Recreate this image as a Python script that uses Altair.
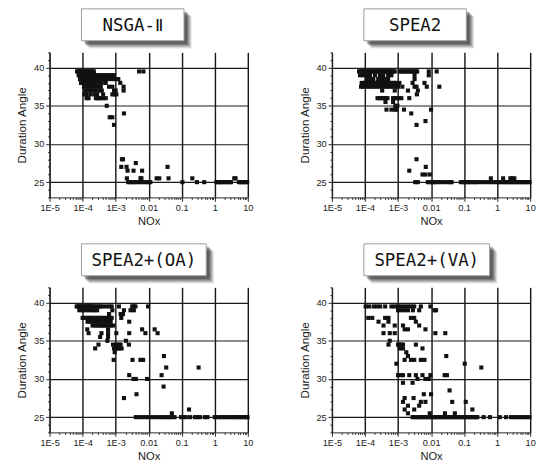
import altair as alt
import pandas as pd

# ---------------- data (Duration Angle, list of log10(NOx) values) ----------------
panel_names = ["NSGA-Ⅱ", "SPEA2", "SPEA2+(OA)", "SPEA2+(VA)"]

nsga_rows = [
    (39.5, [-4.17, -4.13, -4.1, -4.06, -4.02, -3.98, -3.94, -3.9, -3.86, -3.82, -3.78, -3.74, -3.7, -3.66, -2.29, -2.16]),
    (39.0, [-4.12, -4.08, -4.03, -3.97, -3.92, -3.87, -3.82, -3.76, -3.7, -3.64, -3.58, -3.52, -3.46, -3.4, -3.34, -3.28, -3.22, -3.16, -3.1, -3.05]),
    (38.5, [-4.08, -4.02, -3.95, -3.88, -3.8, -3.74, -3.66, -3.6, -3.52, -3.44, -3.36, -3.3, -3.2, -3.12, -3.05, -2.98, -2.92]),
    (38.0, [-4.05, -3.98, -3.9, -3.84, -3.77, -3.7, -3.62, -3.5, -3.42, -3.3, -2.86]),
    (37.5, [-3.96, -3.9, -3.8, -3.72, -3.62, -3.55, -3.45, -3.2, -3.1, -2.76]),
    (37.0, [-3.92, -3.85, -3.78, -3.7, -3.62, -3.5, -3.42, -3.05, -3.0, -2.76]),
    (36.5, [-3.95, -3.88, -3.76, -3.64, -3.56, -3.38, -3.1, -3.04, -2.98]),
    (36.0, [-3.88, -3.82, -3.6, -3.55, -3.5, -3.45, -3.38, -3.3]),
    (35.0, [-3.27]),
    (34.0, [-2.75]),
    (33.5, [-3.18, -3.1]),
    (32.5, [-3.05]),
    (28.0, [-2.81, -2.78]),
    (27.5, [-2.39]),
    (27.0, [-2.83, -2.67, -1.43]),
    (26.5, [-2.64, -2.46, -2.2]),
    (25.5, [-2.66, -2.25, -2.22, -1.76, -1.68, -1.4, -0.68, 0.59, 0.63]),
    (25.0, [-2.62, -2.56, -2.5, -2.44, -2.38, -2.3, -2.22, -2.14, -2.06, -2.0, -1.95, -0.98, -0.54, -0.32,
            0.05, 0.1, 0.15, 0.2, 0.25, 0.32, 0.38, 0.44, 0.49, 0.73, 0.78, 0.83, 0.88, 0.93, 0.98]),
]

spea2_rows = [
    (39.5, [-4.18, -4.14, -4.1, -4.06, -4.02, -3.98, -3.94, -3.9, -3.86, -3.82, -3.78, -3.74, -3.7, -3.66, -3.62, -3.58,
            -3.54, -3.5, -3.46, -3.42, -3.38, -3.34, -3.3, -3.26, -3.22, -3.18, -3.14, -3.1, -2.95, -2.9, -2.85, -2.8,
            -2.75, -2.7, -2.65, -2.6, -2.55, -2.5, -2.45, -2.42, -2.07, -1.83]),
    (39.0, [-4.15, -4.05, -3.95, -3.85, -3.7, -3.55, -3.45, -3.3, -3.2, -2.5, -2.07]),
    (38.5, [-3.95, -3.85, -3.75, -3.6, -3.5, -3.4, -3.3, -2.5]),
    (38.0, [-4.1, -4.03, -3.96, -3.9, -3.84, -3.78, -3.72, -3.66, -3.6, -3.54, -3.48, -3.42, -3.36, -3.3, -3.24, -3.18,
            -3.12, -3.05, -2.96, -2.56, -2.2]),
    (37.5, [-4.12, -4.05, -3.98, -3.9, -3.82, -3.74, -3.66, -3.58, -3.5, -3.42, -3.34, -3.26, -3.18, -3.1, -3.0, -2.87,
            -2.5, -2.44, -2.13, -1.75]),
    (37.0, [-3.48, -3.1, -2.7, -2.4]),
    (36.5, [-2.43]),
    (36.0, [-3.62, -3.56, -3.5, -3.44, -3.38, -3.32, -3.15, -3.1, -3.05, -2.97, -2.9, -2.66]),
    (35.5, [-3.38, -3.15]),
    (35.0, [-3.08, -3.02]),
    (34.5, [-3.35, -3.2, -3.1, -3.05, -2.82, -2.0]),
    (34.0, [-2.6]),
    (33.0, [-2.17]),
    (32.5, [-2.44]),
    (28.0, [-2.44]),
    (27.0, [-2.16]),
    (26.5, [-2.66]),
    (26.0, [-2.26, -2.17, -2.04]),
    (25.5, [-0.19, 0.18, 0.4, 0.45, 0.52]),
    (25.0, [-2.48, -2.4, -2.1, -2.04, -1.98, -1.92, -1.86, -1.78, -1.7, -1.6, -1.5, -1.42, -1.38, -1.1, -1.04, -0.98,
            -0.92, -0.86, -0.8, -0.72, -0.66, -0.6, -0.5, -0.4, -0.3, -0.22, -0.12, -0.02, 0.05, 0.12, 0.2, 0.26, 0.32,
            0.38, 0.44, 0.5, 0.56, 0.62, 0.68, 0.74, 0.8, 0.86, 0.92, 0.98]),
]

oa_rows = [
    (39.5, [-4.18, -4.14, -4.1, -4.06, -4.02, -3.98, -3.94, -3.9, -3.86, -3.82, -3.78, -3.74, -3.7, -3.64, -3.58, -3.52,
            -3.46, -3.4, -3.3, -3.2, -3.12, -2.9, -2.5, -2.45, -2.4, -2.02]),
    (39.0, [-4.1, -4.0, -3.9, -3.8, -3.72, -3.64, -3.56, -3.1, -2.75, -2.55, -2.45]),
    (38.5, [-3.2, -2.85, -2.78]),
    (38.0, [-4.0, -3.94, -3.88, -3.82, -3.76, -3.7, -3.64, -3.58, -3.52, -3.46, -3.4, -3.3, -3.24, -3.18, -3.12, -2.83]),
    (37.5, [-3.85, -3.78, -3.7, -3.62, -3.55, -3.48, -3.4, -3.32, -3.25, -3.15, -2.59]),
    (37.0, [-3.7, -3.62, -3.55, -3.48, -3.42, -3.36, -3.3, -3.22, -3.15, -3.08]),
    (36.5, [-3.86, -3.23, -2.2, -1.82]),
    (36.0, [-3.82, -3.43, -3.23, -2.98, -2.59, -2.1, -1.73]),
    (35.5, [-3.47, -3.23]),
    (35.0, [-3.25, -2.69]),
    (34.5, [-3.52, -3.08, -2.98, -2.9, -2.85, -2.6]),
    (34.0, [-3.62, -3.05, -3.0, -2.95, -2.9, -2.82]),
    (33.5, [-3.03]),
    (33.0, [-1.54]),
    (32.5, [-3.06, -2.49, -2.25, -2.17]),
    (31.5, [-1.47, -0.49]),
    (30.5, [-2.59, -1.61]),
    (30.0, [-2.46, -2.39, -2.05]),
    (29.0, [-1.55]),
    (28.0, [-2.37]),
    (27.5, [-2.75]),
    (26.0, [-0.78]),
    (25.5, [-1.3]),
    (25.0, [-2.39, -2.3, -2.2, -2.1, -2.0, -1.9, -1.8, -1.7, -1.6, -1.52, -1.45, -1.38, -1.3, -1.22, -1.02, -0.95,
            -0.88, -0.75, -0.6, -0.52, -0.45, -0.3, -0.22, 0.0, 0.08, 0.15, 0.22, 0.3, 0.38, 0.45, 0.52, 0.6, 0.66,
            0.72, 0.78, 0.84, 0.9, 0.96, 0.99]),
]

va_rows = [
    (39.5, [-3.98, -3.88, -3.74, -3.64, -3.54, -3.39, -3.2, -3.1, -3.0, -2.9, -2.8, -2.7, -2.61, -2.51, -2.31, -2.02]),
    (39.0, [-3.0, -2.9, -2.8, -2.7, -2.55, -2.36, -1.9, -1.85]),
    (38.0, [-3.9, -3.78, -3.39, -3.29, -2.61, -2.51]),
    (37.5, [-3.59, -3.29, -2.46]),
    (37.0, [-3.44, -3.1, -2.85, -2.36]),
    (36.5, [-2.8, -2.7, -2.17]),
    (36.0, [-3.44, -3.25, -3.1, -1.87, -1.57]),
    (35.0, [-3.25]),
    (34.5, [-3.29, -3.0, -2.95, -2.9, -2.85, -2.46]),
    (34.0, [-2.95, -2.85, -2.26]),
    (33.5, [-2.75]),
    (33.0, [-2.7, -1.54]),
    (32.5, [-2.8, -2.61, -2.51, -2.31, -2.2]),
    (32.0, [-3.05, -0.98]),
    (31.5, [-0.48]),
    (30.5, [-3.0, -2.9, -2.85, -2.66, -2.46, -2.26, -2.02, -1.59, -1.52]),
    (30.0, [-2.41, -2.17, -2.07]),
    (29.5, [-2.85, -2.56]),
    (28.5, [-1.44]),
    (28.0, [-2.22, -2.0]),
    (27.5, [-2.8, -2.53]),
    (27.0, [-2.85, -2.31, -2.17, -1.36, -0.95]),
    (26.5, [-2.7, -2.36]),
    (26.0, [-2.8, -2.51, -0.75]),
    (25.5, [-2.7, -2.04, -1.58, -1.28]),
    (25.0, [-2.56, -2.5, -2.44, -2.38, -2.32, -2.26, -2.2, -2.14, -2.08, -2.02, -1.96, -1.9, -1.84, -1.78, -1.72,
            -1.66, -1.6, -1.54, -1.48, -1.42, -1.36, -1.3, -1.24, -1.18, -1.12, -1.06, -1.0, -0.94, -0.88, -0.82,
            -0.76, -0.7, -0.64, -0.6, -0.41, -0.22, 0.08, 0.27, 0.42, 0.5, 0.58, 0.66, 0.74, 0.82, 0.9, 0.98]),
]

x_tick_values = [k * 10.0 ** e for e in range(-5, 1) for k in range(1, 10)] + [10.0]
y_tick_values = list(range(23, 43))

# ---------------- chart ----------------
W, H = 205, 150
DEC = "abs(log(datum.value)/LN10 - round(log(datum.value)/LN10)) < 0.001"
FONT = "Liberation Sans"
BOX_FONT = "DejaVu Sans Mono"


def to_df(rows):
    recs = []
    for angle, lx in rows:
        for v in lx:
            recs.append({"nox": 10.0 ** v, "angle": angle})
    return pd.DataFrame(recs)


def panel(name, rows, box_w):
    df = to_df(rows)
    xaxis = alt.Axis(
        values=x_tick_values, title="NOx", labelFlush=False, labelOverlap=False,
        labelExpr=f"({DEC}) ? (datum.value < 0.005 ? '1E' + round(log(datum.value)/LN10) : format(datum.value, '~g')) : ''",
        grid=True, gridColor="#1a1a1a", gridWidth=1.5,
        gridOpacity={"condition": {"test": DEC, "value": 1}, "value": 0},
        tickSize={"condition": {"test": DEC, "value": 4}, "value": 2},
        tickColor="#222", domainColor="#222", labelFont=FONT, labelFontSize=9.5, labelColor="#222",
        labelPadding=2, titleFont=FONT, titleFontSize=11.5, titleFontWeight="normal", titleColor="#222",
        titlePadding=4,
    )
    yaxis = alt.Axis(
        values=y_tick_values, title="Duration Angle", labelOverlap=False,
        labelExpr="datum.value % 5 == 0 ? datum.label : ''",
        grid=True, gridColor="#1a1a1a", gridWidth=1.2,
        gridOpacity={"condition": {"test": "datum.value % 5 == 0", "value": 1}, "value": 0},
        tickSize={"condition": {"test": "datum.value % 5 == 0", "value": 4}, "value": 2},
        tickColor="#222", domainColor="#222", labelFont=FONT, labelFontSize=9.5, labelColor="#222",
        labelPadding=2, titleFont=FONT, titleFontSize=12, titleFontWeight="normal", titleColor="#222",
        titlePadding=5,
    )
    pts = alt.Chart(df).mark_square(size=18, color="#111", opacity=1).encode(
        x=alt.X("nox:Q", scale=alt.Scale(type="log", domain=[1e-5, 10], nice=False), axis=xaxis),
        y=alt.Y("angle:Q", scale=alt.Scale(domain=[23, 42], zero=False, nice=False), axis=yaxis),
    )
    tdf = pd.DataFrame({"t": [name]})
    bx0, by0, by1 = 33, -45, -12
    layers = []
    for off, op in [(8, 0.12), (7, 0.15), (6, 0.2), (5, 0.25), (4, 0.3), (3, 0.3)]:
        layers.append(alt.Chart(tdf).mark_rect(color="#333", opacity=op).encode(
            x=alt.value(bx0 + off), x2=alt.value(bx0 + box_w + off),
            y=alt.value(by0 + off), y2=alt.value(by1 + off)))
    layers.append(alt.Chart(tdf).mark_rect(color="white", stroke="#9a9a9a", strokeWidth=1).encode(
        x=alt.value(bx0), x2=alt.value(bx0 + box_w), y=alt.value(by0), y2=alt.value(by1)))
    layers.append(alt.Chart(tdf).mark_text(font=BOX_FONT, fontSize=18, color="#111",
                                           baseline="middle", align="center").encode(
        x=alt.value(bx0 + box_w / 2), y=alt.value((by0 + by1) / 2 + 1), text="t:N"))
    return alt.layer(pts, *layers).properties(width=W, height=H)


p1 = panel(panel_names[0], nsga_rows, 106)
p2 = panel(panel_names[1], spea2_rows, 106)
p3 = panel(panel_names[2], oa_rows, 129)
p4 = panel(panel_names[3], va_rows, 130)

chart = alt.vconcat(
    alt.hconcat(p1, p2, spacing=46),
    alt.hconcat(p3, p4, spacing=46),
    spacing=16,
).properties(padding={"left": 8, "top": -8, "right": 0, "bottom": 0}).configure_view(stroke=None)

chart.save("out.html", embed_options={"renderer": "svg", "actions": False})
